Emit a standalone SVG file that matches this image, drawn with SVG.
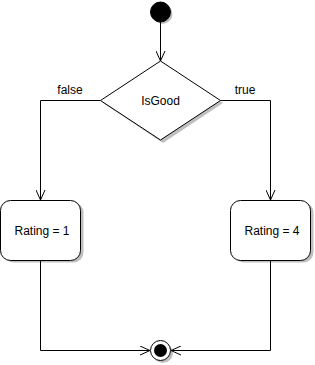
<svg xmlns="http://www.w3.org/2000/svg" width="315" height="365" viewBox="0 0 315 365">
<style>
.ln{fill:none;stroke:#000;stroke-width:1}
.shape{fill:#fff;stroke:#000;stroke-width:1}
.sh{fill:#000;opacity:0.25;stroke:none}
text{font-family:"Liberation Sans",Arial,sans-serif;font-size:12px;fill:#000}
</style>
<defs>
<marker id="arr" viewBox="0 0 10 10" refX="10" refY="5" markerWidth="10" markerHeight="10" markerUnits="userSpaceOnUse" orient="auto">
<path d="M0,0.5 L10,5 L0,9.5" fill="none" stroke="#000" stroke-width="1"/>
</marker>
</defs>
<g id="connectors">
<path class="ln" d="M160.5,22 V61" marker-end="url(#arr)"/>
<path class="ln" d="M100.5,100.5 H40.5 V200" marker-end="url(#arr)"/>
<path class="ln" d="M220.5,100.5 H270.5 V200" marker-end="url(#arr)"/>
<path class="ln" d="M40.5,260 V350.5 H150" marker-end="url(#arr)"/>
<path class="ln" d="M270.5,260 V350.5 H171" marker-end="url(#arr)"/>
<text x="70" y="94" text-anchor="middle">false</text>
<text x="245" y="94" text-anchor="middle">true</text>
</g>
<g id="start">
<circle class="sh" cx="162.5" cy="14" r="10"/>
<circle cx="160.5" cy="12" r="10" fill="#000" stroke="#000"/>
</g>
<g id="decision">
<path class="sh" d="M163,64 L223,103 L163,143 L103,103 Z"/>
<path class="shape" d="M160.5,61 L220.5,100.5 L160.5,140 L100.5,100.5 Z"/>
<text x="160.5" y="104.5" text-anchor="middle">IsGood</text>
</g>
<g id="rating1">
<rect class="sh" x="3.5" y="202.5" width="80" height="60" rx="10"/>
<rect class="shape" x="0.5" y="200.5" width="80" height="60" rx="10"/>
<text x="42" y="235" text-anchor="middle">Rating = 1</text>
</g>
<g id="rating4">
<rect class="sh" x="233.5" y="202.5" width="80" height="60" rx="10"/>
<rect class="shape" x="230.5" y="200.5" width="80" height="60" rx="10"/>
<text x="272" y="235" text-anchor="middle">Rating = 4</text>
</g>
<g id="end">
<circle class="sh" cx="163" cy="353" r="10"/>
<circle class="shape" cx="160.5" cy="350.5" r="10"/>
<circle cx="160.5" cy="350.5" r="6.5" fill="#000"/>
</g>
</svg>
